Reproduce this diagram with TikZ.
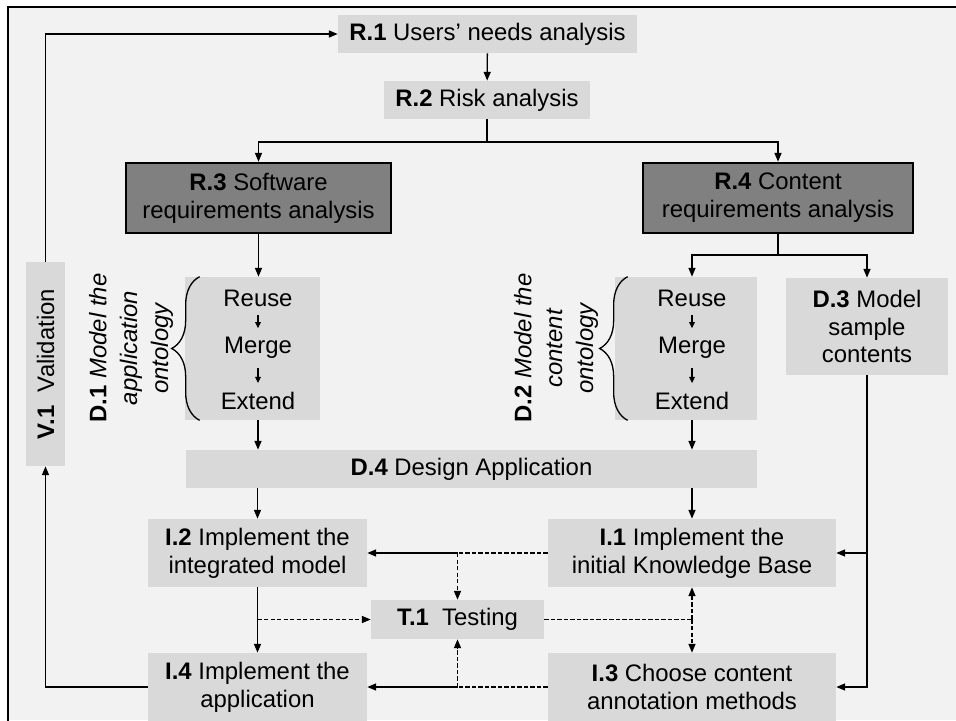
\documentclass[tikz,border=0pt]{standalone}
\usepackage{fontspec}
\setmainfont{Liberation Sans}
\usetikzlibrary{arrows.meta,decorations.pathreplacing}
\definecolor{bggray}{HTML}{F2F2F2}
\definecolor{boxgray}{HTML}{D9D9D9}
\definecolor{reqgray}{HTML}{808080}
\newcommand{\boxfont}{\fontsize{13.6}{15.8}\selectfont}
\newcommand{\rotfont}{\fontsize{13.6}{17.6}\selectfont}

\begin{document}
\begin{tikzpicture}[x=0.02cm, y=-0.02cm,
    box/.style={fill=boxgray, inner sep=0pt, align=center, font=\boxfont},
    reqbox/.style={box, fill=reqgray, draw=black, line width=1.5pt},
    plain/.style={inner sep=0pt, align=center, font=\boxfont},
    arr/.style={-{Triangle[length=5pt,width=4pt]}, line width=0.75pt},
    smallarr/.style={-{Triangle[length=3.5pt,width=3.2pt]}, line width=0.75pt, shorten <=5pt, shorten >=5pt},
    dashline/.style={line width=0.75pt, dash pattern=on 2.5pt off 1.2pt},
    dasharr/.style={arr, dash pattern=on 2.5pt off 1.2pt},
    curly/.style={decorate, decoration={brace, amplitude=0.56cm}, line width=0.75pt}]
    \clip (0,0) rectangle (956,720);
    \fill[white] (0,0) rectangle (956,720);
    \fill[bggray] (8,7) rectangle (956,720);
    \draw[line width=1.3pt] (8,725) -- (8,7) -- (960,7);

    % 需求分析
    \node[box, minimum width=5.98cm, minimum height=0.76cm] (R1) at (487.5,34) {\textbf{R.1} Users' needs analysis};
    \node[box, minimum width=4.12cm, minimum height=0.76cm] (R2) at (487,100) {\textbf{R.2} Risk analysis};
    \node[reqbox, minimum width=5.3cm, minimum height=1.4cm] (R3) at (258.5,198) {\textbf{R.3} Software\\requirements analysis};
    \node[reqbox, minimum width=5.4cm, minimum height=1.4cm] (R4) at (778,198) {\textbf{R.4} Content\\requirements analysis};

    % 本体设计
    \node[box, minimum width=2.7cm, minimum height=2.86cm] (D1box) at (252.5,348.5) {};
    \node[plain] (reuseA) at (258,298) {Reuse};
    \node[plain] (mergeA) at (258,348) {Merge};
    \node[plain] (extendA) at (258,401) {Extend};
    \draw[smallarr] (reuseA) -- (mergeA);
    \draw[smallarr] (mergeA) -- (extendA);
    \draw[curly] ([xshift=0.3cm]D1box.south west) -- ([xshift=0.3cm]D1box.north west);
    \node[plain, rotate=90, font=\rotfont] (D1lbl) at (131,348) {\textbf{D.1} \textit{Model the}\\\textit{application}\\\textit{ontology}};

    \node[box, minimum width=2.84cm, minimum height=2.86cm] (D2box) at (686,348.5) {};
    \node[plain] (reuseB) at (692,298) {Reuse};
    \node[plain] (mergeB) at (692,348) {Merge};
    \node[plain] (extendB) at (692,401) {Extend};
    \draw[smallarr] (reuseB) -- (mergeB);
    \draw[smallarr] (mergeB) -- (extendB);
    \draw[curly] ([xshift=0.26cm]D2box.south west) -- ([xshift=0.26cm]D2box.north west);
    \node[plain, rotate=90, font=\rotfont] (D2lbl) at (556,348) {\textbf{D.2} \textit{Model the}\\\textit{content}\\\textit{ontology}};

    \node[box, minimum width=3.24cm, minimum height=1.94cm] (D3) at (867,326.5) {\textbf{D.3} Model\\sample\\contents};
    \node[box, minimum width=11.42cm, minimum height=0.76cm] (D4) at (471.5,469) {\textbf{D.4} Design Application};

    % 实现与测试
    \node[box, minimum width=4.38cm, minimum height=1.36cm] (I2) at (257.5,553) {\textbf{I.2} Implement the\\integrated model};
    \node[box, minimum width=5.76cm, minimum height=1.36cm] (I1) at (692,553) {\textbf{I.1} Implement the\\initial Knowledge Base};
    \node[box, minimum width=3.46cm, minimum height=0.78cm] (T1) at (457.5,619.5) {\textbf{T.1}\ \ Testing};
    \node[box, minimum width=4.38cm, minimum height=1.36cm] (I4) at (257.5,687) {\textbf{I.4} Implement the\\application};
    \node[box, minimum width=5.76cm, minimum height=1.36cm] (I3) at (692,687) {\textbf{I.3} Choose content\\annotation methods};
    \node[box, rotate=90, minimum width=4.08cm, minimum height=0.78cm] (V1) at (45.5,364) {\textbf{V.1}\ \ Validation};

    % 连线
    \coordinate (split1) at (487,142);
    \coordinate (split2) at (778,255);
    \draw[arr] (R1) -- (R2);
    \draw[line width=0.75pt] (R2.south) -- (split1);
    \draw[arr] (split1) -| (R3.north);
    \draw[arr] (split1) -| (R4.north);
    \draw[arr] (R3.south) -- (R3.south |- D1box.north);
    \draw[line width=0.75pt] (R4.south) -- (split2);
    \draw[arr] (split2) -| (reuseB |- D2box.north);
    \draw[arr] (split2) -| (D3.north);
    \draw[arr] (reuseA |- D1box.south) -- (reuseA |- D4.north);
    \draw[arr] (reuseB |- D2box.south) -- (reuseB |- D4.north);
    \draw[arr] (I2.north |- D4.south) -- (I2.north);
    \draw[arr] (I1.north |- D4.south) -- (I1.north);
    \draw[arr] (D3.south) |- (I1.east);
    \draw[arr] (D3.south) |- (I3.east);

    \coordinate (j1) at (T1.north |- I1.west);
    \coordinate (j2) at (T1.south |- I3.west);
    \coordinate (j3) at (I1.south |- T1.east);
    \draw[dashline] (I1.west) -- (j1);
    \draw[arr] (j1) -- (I2.east);
    \draw[dasharr] (j1) -- (T1.north);
    \draw[dashline] (I3.west) -- (j2);
    \draw[arr] (j2) -- (I4.east);
    \draw[dasharr] (j2) -- (T1.south);
    \draw[arr] (I2.south) -- (I4.north);
    \draw[dasharr] (I2.south |- T1.west) -- (T1.west);
    \draw[dashline] (T1.east) -- (j3);
    \draw[dasharr] (j3) -- (I1.south);
    \draw[dasharr] (j3) -- (I3.north);

    \draw[arr] (V1.east) |- (R1.west);
    \draw[arr] (I4.west) -| (V1.west);
\end{tikzpicture}
\end{document}
